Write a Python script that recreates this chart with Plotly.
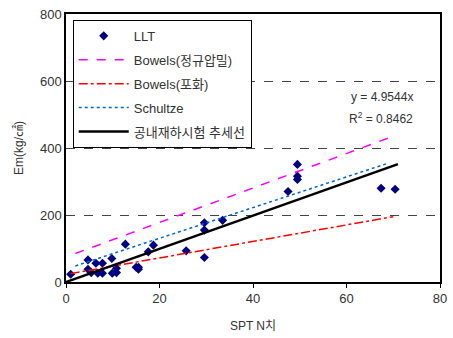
import plotly.graph_objects as go

# LLT measured data (SPT N, Em)
llt_n = [1, 4.7, 4.7, 5.4, 6.4, 6.8, 7.8, 7.8, 9.8, 9.9, 10.8, 10.8, 12.7, 15, 15.5, 15.5,
         17.6, 18.7, 25.7, 29.6, 29.6, 29.6, 33.5, 47.5, 49.5, 49.5, 49.5, 67.4, 70.4]
llt_em = [23, 66, 38, 28, 56, 26, 56, 26, 70, 26, 41, 28, 113, 44, 44, 38,
          90, 110, 93, 73, 155, 177, 184, 270, 351, 316, 306, 280, 277]

bowels_nc_n = [2, 70]
bowels_nc_em = [85, 435]
bowels_sat_n = [1, 70]
bowels_sat_em = [25, 195]
schultze_n = [2, 69]
schultze_em = [48, 355]
trend_n = [0, 71]
trend_em = [0, 351.8]

x_ticks = [0, 20, 40, 60, 80]
y_ticks = [0, 200, 400, 600, 800]

FONT = "Liberation Sans, Noto Sans CJK KR, sans-serif"

fig = go.Figure()
fig.add_trace(go.Scatter(x=llt_n, y=llt_em, mode="markers", name="LLT",
                         marker=dict(symbol="diamond", size=7, color="#000080"),
                         legendgroup="a"))
fig.add_trace(go.Scatter(x=bowels_nc_n, y=bowels_nc_em, mode="lines", name="Bowels(정규압밀)",
                         line=dict(color="#FF00FF", width=1.5, dash="dash"), legendgroup="b"))
fig.add_trace(go.Scatter(x=bowels_sat_n, y=bowels_sat_em, mode="lines", name="Bowels(포화)",
                         line=dict(color="#FF0000", width=1.5, dash="dashdot"), legendgroup="c"))
fig.add_trace(go.Scatter(x=schultze_n, y=schultze_em, mode="lines", name="Schultze",
                         line=dict(color="#0066CC", width=1.5, dash="dot"), legendgroup="d"))
fig.add_trace(go.Scatter(x=trend_n, y=trend_em, mode="lines", name="공내재하시험 추세선",
                         line=dict(color="#000000", width=2.5), legendgroup="e"))

fig.update_layout(
    width=453, height=338,
    margin=dict(l=66, r=6, t=14, b=56),
    paper_bgcolor="white", plot_bgcolor="white",
    font=dict(family=FONT, size=12, color="#333333"),
    legend=dict(x=0.018, y=0.978, xanchor="left", yanchor="top",
                bordercolor="black", borderwidth=1, bgcolor="white",
                font=dict(size=13, color="#333333"), traceorder="grouped",
                tracegroupgap=4, itemwidth=50),
    showlegend=True,
    annotations=[
        dict(x=0.934, y=0.69, xref="paper", yref="paper", text="y = 4.9544x",
             showarrow=False, xanchor="right", yanchor="middle",
             font=dict(size=12, color="#333333")),
        dict(x=0.934, y=0.612, xref="paper", yref="paper", text="R<sup>2</sup> = 0.8462",
             showarrow=False, xanchor="right", yanchor="middle",
             font=dict(size=12, color="#333333")),
    ],
)
fig.update_xaxes(range=[0, 80], tickvals=x_ticks, showgrid=False, zeroline=False,
                 showline=True, linecolor="black", linewidth=1.5, mirror=True,
                 ticks="outside", ticklen=4, tickcolor="black",
                 title=dict(text="SPT N치", font=dict(size=12), standoff=16),
                 tickfont=dict(size=13))
fig.update_yaxes(range=[0, 800], tickvals=y_ticks, showgrid=True, gridcolor="#444444",
                 griddash="dash", gridwidth=1, zeroline=False,
                 showline=True, linecolor="black", linewidth=1.5, mirror=True,
                 ticks="", title=dict(text="Em(kg/㎠)", font=dict(size=12), standoff=14),
                 tickfont=dict(size=13))

fig.write_html("out.html")
